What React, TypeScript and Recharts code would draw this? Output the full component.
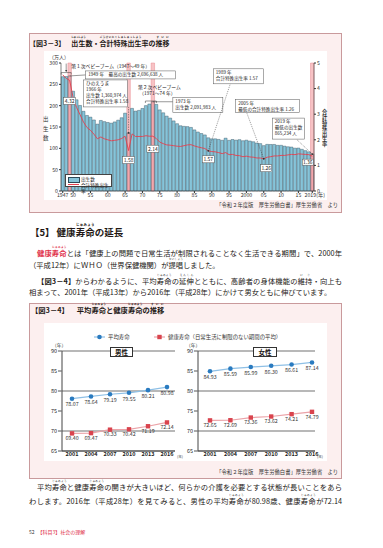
import React from 'react'
import {
  ComposedChart,
  LineChart,
  Bar,
  Line,
  Cell,
  XAxis,
  YAxis,
  CartesianGrid,
  ReferenceArea,
  ReferenceDot,
  LabelList,
} from 'recharts'

// 図3-3 births (万人) and total fertility rate, 1947-2019
const years = [
  1947, 1948, 1949, 1950, 1951, 1952, 1953, 1954, 1955, 1956, 1957, 1958, 1959, 1960, 1961, 1962, 1963,
  1964, 1965, 1966, 1967, 1968, 1969, 1970, 1971, 1972, 1973, 1974, 1975, 1976, 1977, 1978, 1979, 1980,
  1981, 1982, 1983, 1984, 1985, 1986, 1987, 1988, 1989, 1990, 1991, 1992, 1993, 1994, 1995, 1996, 1997,
  1998, 1999, 2000, 2001, 2002, 2003, 2004, 2005, 2006, 2007, 2008, 2009, 2010, 2011, 2012, 2013, 2014,
  2015, 2016, 2017, 2018, 2019,
]
const births = [
  267.9, 268.2, 269.7, 233.8, 213.8, 200.5, 186.8, 177.0, 173.1, 166.5, 156.7, 165.3, 162.6, 160.6, 158.9,
  161.9, 166.0, 171.7, 182.4, 136.1, 193.6, 187.2, 188.9, 193.4, 200.1, 203.9, 209.2, 203.0, 190.1, 183.3,
  175.5, 170.9, 164.3, 157.7, 152.9, 151.5, 150.9, 149.0, 143.2, 138.3, 134.7, 131.4, 124.7, 122.2, 122.3,
  120.9, 118.8, 123.8, 118.7, 120.7, 119.2, 120.3, 117.8, 119.1, 117.1, 115.4, 112.4, 111.1, 106.3, 109.3,
  109.0, 109.1, 107.0, 107.1, 105.1, 103.7, 103.0, 100.4, 100.6, 97.7, 94.6, 91.8, 86.5,
]
const tfr = [
  4.54, 4.4, 4.32, 3.65, 3.26, 2.98, 2.69, 2.48, 2.37, 2.22, 2.04, 2.11, 2.04, 2.0, 1.96, 1.98, 2.0, 2.05,
  2.14, 1.58, 2.23, 2.13, 2.13, 2.13, 2.16, 2.14, 2.14, 2.05, 1.91, 1.85, 1.8, 1.79, 1.77, 1.75, 1.74, 1.77,
  1.8, 1.81, 1.76, 1.72, 1.69, 1.66, 1.57, 1.54, 1.53, 1.5, 1.46, 1.5, 1.42, 1.43, 1.39, 1.38, 1.34, 1.36,
  1.33, 1.32, 1.29, 1.29, 1.26, 1.32, 1.34, 1.37, 1.37, 1.39, 1.39, 1.41, 1.43, 1.42, 1.45, 1.44, 1.43,
  1.42, 1.36,
]
const highlightYears = [1949, 1966, 1973, 2019]
const yearTicks = [1947, 1950, 1955, 1960, 1965, 1970, 1975, 1980, 1985, 1990, 1995, 2000, 2005, 2010, 2015, 2019]
const birthTicks = [0, 50, 100, 150, 200, 250, 300]
const rateTicks = [0, 1, 2, 3, 4, 5]

// 図3-4 life expectancy vs healthy life expectancy
const lifeYears = ['2001', '2004', '2007', '2010', '2013', '2016']
const maleLife = [78.07, 78.64, 79.19, 79.55, 80.21, 80.98]
const maleHealthy = [69.4, 69.47, 70.33, 70.42, 71.19, 72.14]
const femaleLife = [84.93, 85.59, 85.99, 86.3, 86.61, 87.14]
const femaleHealthy = [72.65, 72.69, 73.36, 73.62, 74.21, 74.79]
const lifeTicks = [65, 70, 75, 80, 85, 90]

// callout boxes: offsets are relative to the anchored data point
const callouts = [
  { year: 1949, key: 'births', lines: ['1949 年　最高の出生数 2,696,638 人'], dx: 16, dy: -5, w: 90, h: 8, lx: 16, ly: -1 },
  { year: 1949, key: 'tfr', lines: ['4.32'], dx: -6, dy: 17, w: 12, h: 7, num: true },
  { year: 1966, key: 'births', lines: ['ひのえうま', '1966 年', '出生数 1,360,974 人', '合計特殊出生率 1.58'], dx: -45, dy: -53, w: 44, h: 27, lx: 0, ly: -26, dash: '1.5 1' },
  { year: 1966, key: 'tfr', lines: ['1.58'], dx: -6, dy: 6, w: 12, h: 7, num: true },
  { year: 1973, key: 'births', lines: ['1973 年', '出生数 2,091,983 人'], dx: 20, dy: -4, w: 50, h: 15, lx: 20, ly: 0 },
  { year: 1973, key: 'tfr', lines: ['2.14'], dx: -6, dy: 9, w: 12, h: 7, num: true },
  { year: 1989, key: 'tfr', lines: ['1989 年', '合計特殊出生率 1.57'], dx: 5, dy: -82, w: 50, h: 15, lx: 22, ly: -67, dash: '1 1' },
  { year: 1989, key: 'tfr', lines: ['1.57'], dx: -6, dy: 5, w: 12, h: 7, num: true },
  { year: 2005, key: 'tfr', lines: ['2005 年', '最低の合計特殊出生率 1.26'], dx: -28, dy: -59, w: 64, h: 13, lx: -17, ly: -46, dash: '1 1' },
  { year: 2005, key: 'tfr', lines: ['1.26'], dx: -3, dy: 6, w: 11, h: 7, num: true },
  { year: 2019, key: 'births', lines: ['2019 年', '最低の出生数', '865,234 人'], dx: -40, dy: -36, w: 32, h: 21, lx: -16, ly: -15, dash: '1 1' },
  { year: 2019, key: 'tfr', lines: ['1.36'], dx: -10, dy: 3, w: 11, h: 6, num: true },
]

const FONT = '"Noto Sans CJK JP", "Noto Sans", sans-serif'
const INK = '#231815'

const birthData = years.map((y, i) => ({ year: y, births: births[i], tfr: tfr[i] }))

function R({ b, r, c }: { b: string; r: string; c?: string }) {
  return (
    <ruby>
      {b}
      <rt style={{ fontSize: '36%', letterSpacing: '-0.05em', color: c }}>{r}</rt>
    </ruby>
  )
}

function TextLine({ x, y, w, size, justify, bold, color, children }: any) {
  return (
    <div style={{ position: 'absolute', left: x, top: y - 30, width: w, height: 30 + size / 2, display: 'flex', alignItems: 'flex-end' }}>
      <div
        style={{
          width: w,
          fontSize: size,
          lineHeight: `${size}px`,
          textAlign: justify ? 'justify' : 'left',
          textAlignLast: justify ? 'justify' : 'auto',
          fontWeight: bold ? 700 : 400,
          color: color || INK,
        }}
      >
        {children}
      </div>
    </div>
  )
}

function calloutShape(c: any) {
  return (p: any) => {
    const { cx, cy } = p
    if (cx == null || cy == null) return <g />
    const bx = cx + c.dx
    const by = cy + c.dy
    return (
      <g>
        {c.lx !== undefined && (
          <line x1={cx} y1={cy} x2={cx + c.lx} y2={cy + c.ly} stroke="#333" strokeWidth={0.5} strokeDasharray={c.dash} />
        )}
        {c.lx !== undefined && c.dash && <circle cx={cx} cy={cy} r={0.9} fill="#333" />}
        <rect x={bx} y={by} width={c.w} height={c.h} fill="#fff" stroke="#555" strokeWidth={0.5} />
        {c.lines.map((t: string, i: number) => (
          <text
            key={i}
            x={c.num ? bx + c.w / 2 : bx + 2.5}
            y={by + 5.3 + i * 6}
            textAnchor={c.num ? 'middle' : 'start'}
            fontSize={c.num ? 5 : 4.6}
            fill="#222"
          >
            {t}
          </text>
        ))}
      </g>
    )
  }
}

function boom1Shape(p: any) {
  const { cx, cy } = p
  return (
    <g>
      <path d={`M${cx - 5},${cy - 2} V${cy - 4} H${cx + 5} V${cy - 2}`} fill="none" stroke="#333" strokeWidth={0.5} />
      <line x1={cx} y1={cy - 13} x2={cx} y2={cy - 5} stroke="#333" strokeWidth={0.5} />
      <path d={`M${cx - 1},${cy - 6.5} L${cx},${cy - 4.5} L${cx + 1},${cy - 6.5}Z`} fill="#333" />
      <text x={cx + 5} y={cy - 9} fontSize={4.8} fill="#222">第１次ベビーブーム（1947～49 年）</text>
    </g>
  )
}

function boom2Shape(p: any) {
  const { cx, cy } = p
  return (
    <g>
      <path d={`M${cx - 4},${cy - 1} V${cy - 3} H${cx + 7} V${cy - 1}`} fill="none" stroke="#333" strokeWidth={0.5} />
      <text x={cx + 10} y={cy - 15} fontSize={4.8} fill="#222" textAnchor="middle">第２次ベビーブーム</text>
      <text x={cx + 8} y={cy - 9.5} fontSize={4.8} fill="#222" textAnchor="middle">（1971～74 年）</text>
    </g>
  )
}

function YearTick({ x, y, payload }: any) {
  const v = payload.value as number
  const label = v === 1947 || v === 2000 || v === 2019 ? String(v) : String(v).slice(2)
  return (
    <g>
      <text x={v === 2019 ? x - 2 : x} y={y + 4.4} textAnchor="middle" fontSize={5.2} fill="#333">
        {label}
      </text>
      {v === 2019 && (
        <text x={x + 4} y={y + 4.4} fontSize={5.2} fill="#333">
          (年)
        </text>
      )}
    </g>
  )
}

function BirthChart() {
  return (
    <ComposedChart width={283} height={149} data={birthData} margin={{ top: 12, right: 0, bottom: 0, left: 0 }} barCategoryGap="6%">
      {highlightYears.map((y) => (
        <ReferenceArea key={y} yAxisId="b" x1={y} x2={y} y1={0} y2={300} fill="#f7c3c5" stroke="#e98b92" strokeWidth={0.5} fillOpacity={1} />
      ))}
      <XAxis dataKey="year" type="category" ticks={yearTicks} interval={0} height={9} tickSize={2} tickMargin={0} tick={<YearTick />} tickLine={{ stroke: '#333' }} axisLine={{ stroke: '#333', strokeWidth: 0.6 }} />
      <YAxis yAxisId="b" domain={[0, 300]} ticks={birthTicks} width={17} tickSize={2} tickMargin={1} tick={{ fontSize: 5.2, fill: '#333' }} axisLine={{ stroke: '#333', strokeWidth: 0.6 }} tickLine={{ stroke: '#333' }} />
      <YAxis yAxisId="r" orientation="right" domain={[0, 5]} ticks={rateTicks} width={13} tickSize={2} tickMargin={1} tick={{ fontSize: 5.2, fill: '#333' }} axisLine={{ stroke: '#333', strokeWidth: 0.6 }} tickLine={{ stroke: '#333' }} />
      <Bar yAxisId="b" dataKey="births" fill="#86c4d9" stroke="#2e4a58" strokeWidth={0.4} isAnimationActive={false}>
        {birthData.map((d) => (
          <Cell key={d.year} fill={highlightYears.includes(d.year) ? '#f3a6ab' : '#86c4d9'} />
        ))}
      </Bar>
      <Line yAxisId="r" dataKey="tfr" type="linear" stroke="#e5404e" strokeWidth={0.9} dot={false} isAnimationActive={false} />
      <ReferenceDot yAxisId="b" x={1948} y={births[1]} r={0} shape={boom1Shape} />
      <ReferenceDot yAxisId="b" x={1972} y={births[25]} r={0} shape={boom2Shape} />
      {callouts.map((c, i) => {
        const idx = years.indexOf(c.year)
        const v = c.key === 'births' ? births[idx] : tfr[idx]
        return <ReferenceDot key={i} yAxisId={c.key === 'births' ? 'b' : 'r'} x={c.year} y={v} r={0} shape={calloutShape(c)} />
      })}
    </ComposedChart>
  )
}

function Square(p: any) {
  if (p.cx == null) return <g key={p.index} />
  return <rect key={p.index} x={p.cx - 2.2} y={p.cy - 2.2} width={4.4} height={4.4} fill="#d9444e" />
}

function LifeChart({ life, healthy, width, padL, padR, right }: any) {
  const data = lifeYears.map((y, i) => ({ year: y, life: life[i], healthy: healthy[i] }))
  return (
    <LineChart width={width} height={142} data={data} margin={{ top: 28, right, bottom: 0, left: 0 }}>
      <CartesianGrid vertical={false} stroke="#727272" strokeWidth={1.2} />
      <XAxis dataKey="year" padding={{ left: padL, right: padR }} height={14} interval={0} tickLine={false} tickSize={0} tickMargin={1.5} tick={{ fontSize: 5.5, fill: '#222', fontWeight: 700 }} axisLine={{ stroke: '#444', strokeWidth: 1 }} />
      <YAxis domain={[65, 90]} ticks={lifeTicks} width={18} tickSize={4} tickMargin={1} tick={{ fontSize: 5.5, fill: '#222' }} tickLine={{ stroke: '#727272', strokeWidth: 1.2 }} axisLine={{ stroke: '#444', strokeWidth: 1 }} />
      <Line dataKey="life" stroke="#8fc0e6" strokeWidth={1.2} dot={{ r: 2.3, fill: '#2a7bc0', stroke: 'none' }} isAnimationActive={false}>
        <LabelList dataKey="life" position="bottom" offset={4} fontSize={5.3} fill="#333" formatter={(v: any) => Number(v).toFixed(2)} />
      </Line>
      <Line dataKey="healthy" stroke="#eba3a8" strokeWidth={1.2} dot={Square} isAnimationActive={false}>
        <LabelList dataKey="healthy" position="bottom" offset={3} fontSize={5.3} fill="#333" formatter={(v: any) => Number(v).toFixed(2)} />
      </Line>
    </LineChart>
  )
}

const red = '#e0314a'

export default function App() {
  return (
    <div style={{ position: 'absolute', left: 0, top: 0, width: 383, height: 548, background: '#fff', overflow: 'hidden', fontFamily: FONT, color: INK }}>
      {/* 図3-3 */}
      <div style={{ position: 'absolute', left: 29, top: 33, width: 313, height: 180, background: '#fcefef', border: '1px solid #c99a9c', boxSizing: 'border-box' }} />
      <TextLine x={29} y={43} w={200} size={7} bold>
        【図3－3】<span style={{ marginLeft: 6 }} />
        <R b="出生" r="しゅっしょう" />数・<R b="合計特殊出生" r="ごうけいとくしゅしゅっしょう" />率の<R b="推移" r="すいい" />
      </TextLine>
      <div style={{ position: 'absolute', left: 44, top: 51, width: 283, height: 149, background: '#fff' }}>
        <BirthChart />
        <div style={{ position: 'absolute', left: 5, top: 2, fontSize: 5, color: '#333' }}>（万人）</div>
        <div style={{ position: 'absolute', left: -1, top: 64, fontSize: 5.5, lineHeight: '9.5px', width: 6, color: '#333' }}>
          出<br />生<br />数
        </div>
        <div style={{ position: 'absolute', left: 278, top: 58, fontSize: 5.2, lineHeight: '5.4px', width: 6, fontWeight: 700, color: '#333' }}>
          合<br />計<br />特<br />殊<br />出<br />生<br />率
        </div>
        {/* legend */}
        <div style={{ position: 'absolute', left: 21, top: 123, width: 47, height: 13, background: '#fff', border: '0.5px solid #444', boxSizing: 'border-box', fontSize: 4.6, color: '#222' }}>
          <div style={{ position: 'absolute', left: 2, top: 1.5, width: 10, height: 4, background: '#86c4d9', border: '0.5px solid #2e4a58' }} />
          <div style={{ position: 'absolute', left: 15, top: 0.5, lineHeight: '6px' }}>出生数</div>
          <div style={{ position: 'absolute', left: 2, top: 9, width: 11, height: 0, borderTop: '0.9px solid #e5404e' }} />
          <div style={{ position: 'absolute', left: 15, top: 6.5, lineHeight: '6px' }}>合計特殊出生率</div>
        </div>
      </div>
      <TextLine x={150} y={206} w={188} size={5.3} color="#333">
        <div style={{ textAlign: 'right' }}>「令和２年度版　厚生労働白書」厚生労働省　より</div>
      </TextLine>

      {/* section heading */}
      <TextLine x={30} y={233} w={200} size={9.5} bold>
        【5】<span style={{ marginLeft: 2 }} />健康<R b="寿命" r="じゅみょう" />の延長
      </TextLine>
      <TextLine x={37} y={254} w={305} size={7.3} justify>
        <span style={{ color: red, fontWeight: 700 }}>
          健康<R b="寿命" r="じゅみょう" c={red} />
        </span>
        とは「健康上の問題で日常生活が制限されることなく生活できる期間」で、2000年
      </TextLine>
      <TextLine x={29} y={265.5} w={300} size={7.3}>
        （平成12年）にＷＨＯ（世界保健機関）が<R b="提唱" r="ていしょう" />しました。
      </TextLine>
      <TextLine x={37} y={282} w={305} size={7.3} justify>
        <b>【図3－4】</b>からわかるように、平均<R b="寿命" r="じゅみょう" />の<R b="延伸" r="えんしん" />とともに、高齢者の身体機能の<R b="維持" r="いじ" />・向上も
      </TextLine>
      <TextLine x={29} y={293} w={312} size={7.3}>
        相まって、2001年（平成13年）から2016年（平成28年）にかけて男女ともに伸びています。
      </TextLine>

      {/* 図3-4 */}
      <div style={{ position: 'absolute', left: 29, top: 303, width: 313, height: 176, background: '#fcefef', border: '1px solid #c99a9c', boxSizing: 'border-box' }} />
      <TextLine x={31} y={311} w={200} size={7.3} bold>
        【図3－4】<span style={{ marginLeft: 8 }} />平均<R b="寿命" r="じゅみょう" />と健康<R b="寿命" r="じゅみょう" />の<R b="推移" r="すいい" />
      </TextLine>
      <div style={{ position: 'absolute', left: 44, top: 323, width: 283, height: 138, background: '#fff' }}>
        <div style={{ position: 'absolute', left: 0, top: 0 }}>
          <LifeChart life={maleLife} healthy={maleHealthy} width={138} right={7} padL={10} padR={8} />
        </div>
        <div style={{ position: 'absolute', left: 136, top: 0 }}>
          <LifeChart life={femaleLife} healthy={femaleHealthy} width={145} right={10} padL={12} padR={3} />
        </div>
        {/* legend */}
        <svg style={{ position: 'absolute', left: 50, top: 10 }} width={120} height={8}>
          <line x1={0} y1={4} x2={11} y2={4} stroke="#8fc0e6" strokeWidth={1.2} />
          <circle cx={5.5} cy={4} r={2.3} fill="#2a7bc0" />
          <line x1={60} y1={4} x2={71} y2={4} stroke="#eba3a8" strokeWidth={1.2} />
          <rect x={63.3} y={1.8} width={4.4} height={4.4} fill="#d9444e" />
        </svg>
        <div style={{ position: 'absolute', left: 64, top: 11, fontSize: 5.4, lineHeight: '6px', color: '#333' }}>平均寿命</div>
        <div style={{ position: 'absolute', left: 124, top: 11, fontSize: 5.4, lineHeight: '6px', color: '#333' }}>健康寿命（日常生活に制限のない期間の平均）</div>
        <div style={{ position: 'absolute', left: 8, top: 18, fontSize: 4.8, color: '#333' }}>（年）</div>
        <div style={{ position: 'absolute', left: 142, top: 18, fontSize: 4.8, color: '#333' }}>（年）</div>
        <div style={{ position: 'absolute', left: 133, top: 131, fontSize: 3.6, color: '#333' }}>(年)</div>
        <div style={{ position: 'absolute', left: 273, top: 131, fontSize: 3.6, color: '#333' }}>(年)</div>
        <div style={{ position: 'absolute', left: 66, top: 24, width: 23, height: 10, background: '#fff', border: '0.6px solid #333', boxSizing: 'border-box', fontSize: 6.5, fontWeight: 700, lineHeight: '9px', textAlign: 'center' }}>男性</div>
        <div style={{ position: 'absolute', left: 209, top: 24, width: 24, height: 10, background: '#fff', border: '0.6px solid #333', boxSizing: 'border-box', fontSize: 6.5, fontWeight: 700, lineHeight: '9px', textAlign: 'center' }}>女性</div>
      </div>
      <TextLine x={150} y={473} w={188} size={5.3} color="#333">
        <div style={{ textAlign: 'right' }}>「令和２年度版　厚生労働白書」厚生労働省　より</div>
      </TextLine>

      <TextLine x={37} y={488} w={305} size={7.3} justify>
        平均<R b="寿命" r="じゅみょう" />と健康<R b="寿命" r="じゅみょう" />の開きが大きいほど、何らかの介護を必要とする状態が長いことをあら
      </TextLine>
      <TextLine x={29} y={502} w={313} size={7.3} justify>
        わします。2016年（平成28年）を見てみると、男性の平均<R b="寿命" r="じゅみょう" />が80.98歳、健康<R b="寿命" r="じゅみょう" />が72.14
      </TextLine>

      <div style={{ position: 'absolute', left: 29, top: 529, fontSize: 5, lineHeight: '6px', color: '#333', whiteSpace: 'nowrap' }}>
        52<span style={{ marginLeft: 3, color: red }}>【科目3】社会の理解</span>
      </div>
    </div>
  )
}
